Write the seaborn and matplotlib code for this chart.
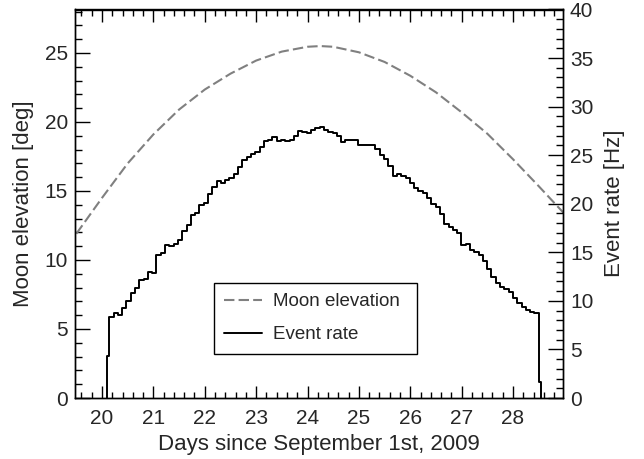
import numpy as np
import pandas as pd
import matplotlib
matplotlib.use("Agg")
import matplotlib.pyplot as plt
from matplotlib.ticker import MultipleLocator
import seaborn as sns

sns.set_style("ticks")
plt.rcParams['font.family'] = ['Liberation Sans', 'DejaVu Sans']

# Moon elevation (deg) vs day
moon_day = [19.5, 20.0, 20.5, 21.0, 21.5, 22.0, 22.5, 23.0, 23.5, 24.0, 24.25,
            24.5, 25.0, 25.5, 26.0, 26.5, 27.0, 27.5, 28.0, 28.5, 29.0]
moon_deg = [11.9, 14.5, 17.0, 19.1, 20.9, 22.35, 23.5, 24.45, 25.1, 25.45, 25.5,
            25.45, 25.05, 24.35, 23.35, 22.15, 20.7, 19.15, 17.3, 15.35, 13.35]

# Event rate histogram (Hz), 2-hour bins plus partial edge bins
rate_first = 4.33      # bin 20.10 - 20.14
rate_last = 1.68       # bin 28.50 - 28.54
rate_hz = [8.37, 8.79, 8.55, 9.24, 10.0, 10.78, 11.3, 12.15, 12.3, 13.0,
           12.9, 14.7, 14.9, 15.76, 15.7, 15.9, 16.3, 17.2, 17.8, 18.8,
           19.0, 19.9, 20.1, 21.0, 21.7, 22.3, 22.1, 22.4, 22.7, 23.1,
           23.8, 24.5, 24.85, 25.1, 25.35, 25.8, 26.5, 26.6, 26.9, 26.45,
           26.57, 26.45, 26.6, 27.0, 27.5, 27.43, 27.3, 27.6, 27.85, 27.9,
           27.6, 27.4, 27.25, 27.0, 26.4, 26.6, 26.6, 26.6, 26.0, 26.05,
           26.05, 26.05, 25.6, 25.0, 24.6, 23.9, 22.9, 23.1, 22.9, 22.65,
           22.1, 21.6, 21.3, 21.08, 20.6, 19.95, 19.7, 18.9, 17.9, 17.6,
           17.3, 17.0, 15.8, 15.85, 15.2, 15.07, 14.7, 14.1, 13.3, 12.45,
           11.8, 11.46, 11.25, 10.9, 10.3, 9.8, 9.35, 9.1, 8.9, 8.72]
rate_start, rate_main_start, rate_main_end, rate_end = 20.10, 20.14, 28.50, 28.54

legend_labels = ["Moon elevation", "Event rate"]

# build step outline
edges = np.concatenate([[rate_start], np.linspace(rate_main_start, rate_main_end, len(rate_hz) + 1), [rate_end]])
vals = [rate_first] + rate_hz + [rate_last]
step_x = np.concatenate([[edges[0]], edges])
step_y = np.concatenate([[0.0], vals, [vals[-1]]])
step_x = np.concatenate([step_x, [edges[-1]]])
step_y = np.concatenate([step_y, [0.0]])
df_rate = pd.DataFrame({"day": step_x, "rate": step_y})
df_moon = pd.DataFrame({"day": moon_day, "deg": moon_deg})

fig = plt.figure(figsize=(6.44, 4.59), dpi=100)
ax = fig.add_axes([75/644, 1-398/459, (563-75)/644, (398-9.5)/459])
ax2 = ax.twinx()

sns.lineplot(data=df_moon, x="day", y="deg", ax=ax, color="#808080", lw=1.5,
             linestyle=(0, (5, 2)), label=legend_labels[0], legend=False)
sns.lineplot(data=df_rate, x="day", y="rate", ax=ax2, color="black", lw=1.4,
             drawstyle="steps-post", estimator=None, sort=False,
             label=legend_labels[1], legend=False)

ax.set_xlim(19.474, 28.973)
ax.set_ylim(0, 28.15)
ax2.set_ylim(0, 40)

fs = 15
ax.xaxis.set_major_locator(MultipleLocator(1))
ax.xaxis.set_minor_locator(MultipleLocator(0.2))
ax.yaxis.set_major_locator(MultipleLocator(5))
ax.yaxis.set_minor_locator(MultipleLocator(1))
ax2.yaxis.set_major_locator(MultipleLocator(5))
ax2.yaxis.set_minor_locator(MultipleLocator(1))

ax.tick_params(axis='x', which='both', direction='in', top=True, bottom=True,
               labelsize=fs, pad=8, color='black')
ax.tick_params(axis='x', which='major', length=8.5, width=1)
ax.tick_params(axis='x', which='minor', length=4.3, width=1)
ax.tick_params(axis='y', which='both', direction='in', left=True, right=False,
               labelsize=fs, pad=5, color='black')
ax.tick_params(axis='y', which='major', length=10.5, width=1)
ax.tick_params(axis='y', which='minor', length=5.3, width=1)
ax2.tick_params(axis='y', which='both', direction='in', right=True, left=False,
                labelsize=fs, pad=5, color='black')
ax2.tick_params(axis='y', which='major', length=10.5, width=1)
ax2.tick_params(axis='y', which='minor', length=5.3, width=1)

for a in (ax, ax2):
    for s in a.spines.values():
        s.set_color('black')
        s.set_linewidth(1)

ax.set_xlabel("Days since September 1st, 2009", fontsize=16, labelpad=4)
ax.set_ylabel("Moon elevation [deg]", fontsize=16, labelpad=8)
ax2.set_ylabel("Event rate [Hz]", fontsize=16, labelpad=8, rotation=90)

h1, l1 = ax.get_legend_handles_labels()
h2, l2 = ax2.get_legend_handles_labels()
leg = ax2.legend(h1 + h2, l1 + l2, loc='upper left',
                 bbox_to_anchor=((214-75)/488, (398-283)/388.5, (417-214)/488, 0.0),
                 mode='expand', fontsize=13.5, frameon=True, fancybox=False,
                 edgecolor='black', framealpha=1, borderpad=0.55, labelspacing=0.85,
                 handlelength=2.0, handletextpad=0.6, borderaxespad=0)
leg.get_frame().set_linewidth(1)

fig.savefig("out.png", dpi=100)
